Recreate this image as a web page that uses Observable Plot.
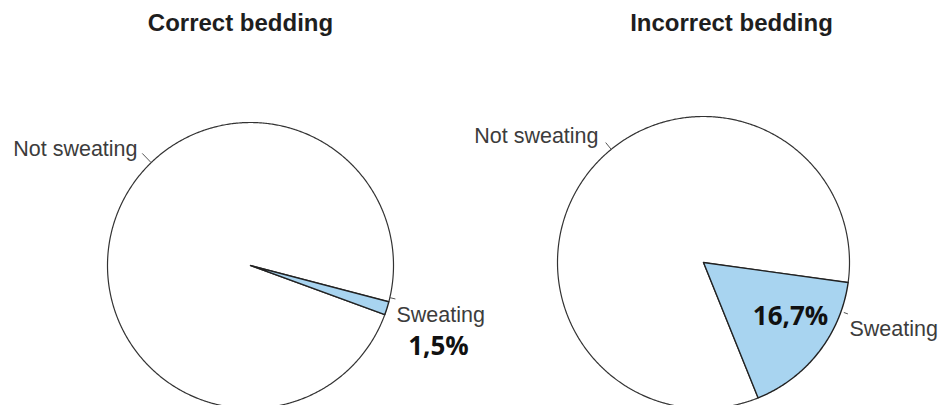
<!DOCTYPE html>
<html>
<head>
<meta charset="utf-8">
<script src="https://cdn.jsdelivr.net/npm/d3@7"></script>
<script src="https://cdn.jsdelivr.net/npm/@observablehq/plot@0.6"></script>
<style>
  html, body { margin: 0; padding: 0; background: #fff; overflow: hidden; }
</style>
</head>
<body>
<div id="chart"></div>
<script>
// ---- data ----
const charts = ["Correct bedding", "Incorrect bedding"];
const categories = ["Not sweating", "Sweating"];
const correctBedding = [98.5, 1.5];     // percent
const incorrectBedding = [83.3, 16.7];  // percent
const percentLabels = ["1,5%", "16,7%"];
const seriesValues = [correctBedding, incorrectBedding];

// ---- layout (screen-space geometry, degrees clockwise from 3 o'clock) ----
const W = 940, H = 405;
const layout = [
  { cx: 250, cy: 265, r: 143, start: 14.7, titleX: 240,
    ticks: [[226, 1.0, 1.09], [13, 1.0, 1.04]],
    labels: [[225.8, 1.133, "end"], [18.9, 1.079, "start"]],
    pct: [23.3, 1.431] },
  { cx: 703, cy: 262, r: 146, start: 7.9, titleX: 731,
    ticks: [[230.8, 1.0, 1.06], [19.6, 1.02, 1.05]],
    labels: [[230.2, 1.123, "end"], [24.65, 1.10, "start"]],
    pct: [31.8, 0.701] }
];
const fills = { "Not sweating": "#ffffff", "Sweating": "#a8d4f0" };

const rad = d => d * Math.PI / 180;
const polar = (L, ang, f) => ({ x: L.cx + L.r * f * Math.cos(rad(ang)), y: L.cy + L.r * f * Math.sin(rad(ang)) });

// slice polygons
const slicePts = [];
const ticks = [];
const labels = [];
const pcts = [];
const titles = [];
charts.forEach((chart, i) => {
  const L = layout[i];
  const vals = seriesValues[i];
  const sweatSpan = vals[1] / 100 * 360;
  const spans = {
    "Sweating": [L.start, L.start + sweatSpan],
    "Not sweating": [L.start + sweatSpan, L.start + 360]
  };
  categories.forEach(cat => {
    const [a0, a1] = spans[cat];
    const id = chart + "|" + cat;
    slicePts.push({ id, cat, x: L.cx, y: L.cy });
    const n = Math.max(2, Math.ceil((a1 - a0) / 0.5));
    for (let k = 0; k <= n; k++) {
      const a = a0 + (a1 - a0) * k / n;
      const p = polar(L, a, 1);
      slicePts.push({ id, cat, x: p.x, y: p.y });
    }
    slicePts.push({ id, cat, x: L.cx, y: L.cy });
  });
  categories.forEach((cat, j) => {
    const [ta, f0, f1] = L.ticks[j];
    const p0 = polar(L, ta, f0), p1 = polar(L, ta, f1);
    ticks.push({ x1: p0.x, y1: p0.y, x2: p1.x, y2: p1.y });
    const [la, lf, anchor] = L.labels[j];
    const lp = polar(L, la, lf);
    labels.push({ x: lp.x, y: lp.y, text: cat, anchor });
  });
  const pp = polar(L, L.pct[0], L.pct[1]);
  pcts.push({ x: pp.x, y: pp.y, text: percentLabels[i] });
  titles.push({ x: L.titleX, y: 23, text: chart });
});

const plot = Plot.plot({
  width: W,
  height: H,
  margin: 0,
  x: { domain: [0, W], axis: null },
  y: { domain: [H, 0], axis: null },
  style: { background: "#fff", overflow: "hidden" },
  marks: [
    Plot.line(slicePts.filter(d => d.cat === "Not sweating"), {
      x: "x", y: "y", z: "id", fill: fills["Not sweating"], stroke: "#333", strokeWidth: 1.2, curve: "linear"
    }),
    Plot.line(slicePts.filter(d => d.cat === "Sweating"), {
      x: "x", y: "y", z: "id", fill: fills["Sweating"], stroke: "#222", strokeWidth: 1.4, curve: "linear"
    }),
    Plot.link(ticks, { x1: "x1", y1: "y1", x2: "x2", y2: "y2", stroke: "#555", strokeWidth: 1 }),
    Plot.text(labels.filter(d => d.anchor === "end"), {
      x: "x", y: "y", text: "text", textAnchor: "end", lineAnchor: "middle",
      fontFamily: "Liberation Sans, Arial, sans-serif", fontSize: 21.5, fill: "#3c3c3c"
    }),
    Plot.text(labels.filter(d => d.anchor === "start"), {
      x: "x", y: "y", text: "text", textAnchor: "start", lineAnchor: "middle",
      fontFamily: "Liberation Sans, Arial, sans-serif", fontSize: 21.5, fill: "#3c3c3c"
    }),
    Plot.text(pcts, {
      x: "x", y: "y", text: "text", textAnchor: "middle", lineAnchor: "middle",
      fontFamily: "Open Sans, sans-serif", fontWeight: "bold", fontSize: 26, fill: "#111"
    }),
    Plot.text(titles, {
      x: "x", y: "y", text: "text", textAnchor: "middle", lineAnchor: "middle",
      fontFamily: "Liberation Sans, Arial, sans-serif", fontWeight: "bold", fontSize: 24, fill: "#1e1e1e"
    })
  ]
});
document.getElementById("chart").appendChild(plot);
</script>
</body>
</html>
